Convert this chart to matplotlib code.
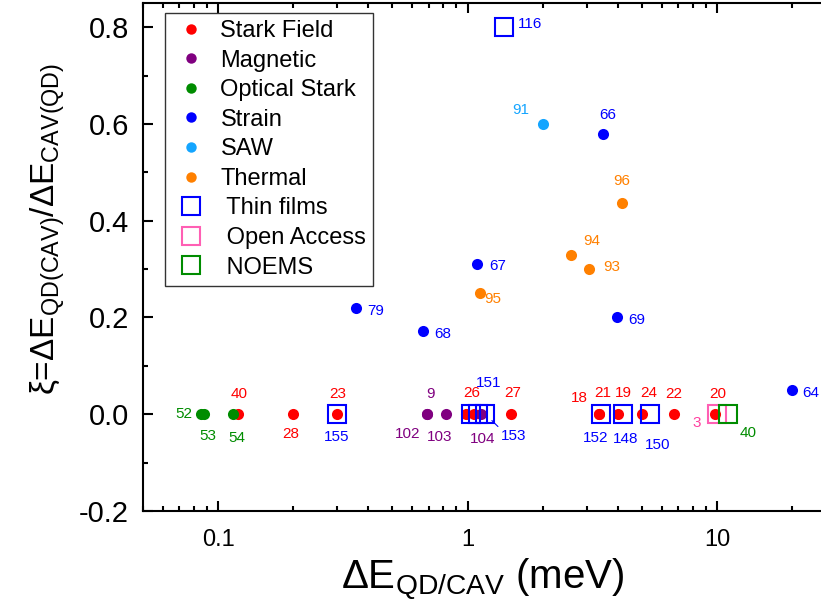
import matplotlib
matplotlib.use('Agg')
import matplotlib.pyplot as plt
from matplotlib.lines import Line2D
from matplotlib.ticker import FixedLocator, FixedFormatter, LogLocator, NullFormatter, MultipleLocator, FormatStrFormatter

plt.rcParams['font.family'] = ['Liberation Sans', 'DejaVu Sans']
plt.rcParams['mathtext.fontset'] = 'custom'
plt.rcParams['mathtext.rm'] = 'Liberation Sans'
plt.rcParams['mathtext.it'] = 'Liberation Sans:italic'
plt.rcParams['mathtext.bf'] = 'Liberation Sans:bold'
plt.rcParams['axes.unicode_minus'] = False

# Tuning mechanisms (filled dots), x = detuning in meV, y = xi
stark_x = [0.12, 0.2, 0.3, 0.99, 1.06, 1.5, 3.35, 3.35, 4.0, 5.0, 6.7, 9.85]
stark_y = [0, 0, 0, 0, 0, 0, 0, 0, 0, 0, 0, 0]
stark_refs = ['40', '28', '23', '', '26', '27', '18', '21', '19', '24', '22', '20']

magnetic_x = [0.69, 0.69, 0.82, 1.13]
magnetic_y = [0, 0, 0, 0]
magnetic_refs = ['9', '102', '103', '104']

optical_x = [0.0855, 0.088, 0.115]
optical_y = [0, 0, 0]
optical_refs = ['52', '53', '54']

strain_x = [0.357, 0.665, 1.094, 3.48, 3.98, 20.0]
strain_y = [0.22, 0.172, 0.31, 0.58, 0.20, 0.05]
strain_refs = ['79', '68', '67', '66', '69', '64']

saw_x = [2.0]
saw_y = [0.6]
saw_refs = ['91']

thermal_x = [4.16, 2.6, 3.07, 1.12]
thermal_y = [0.436, 0.33, 0.30, 0.25]
thermal_refs = ['96', '94', '93', '95']

# Platforms (open squares)
thin_x = [1.4, 0.3, 1.03, 1.1, 1.18, 3.44, 4.2, 5.37]
thin_y = [0.8, 0, 0, 0, 0, 0, 0, 0]
thin_refs = ['116', '155', '', '151', '153', '152', '148', '150']

open_x = [9.97]
open_y = [0]
open_refs = ['3']

noems_x = [11.1]
noems_y = [0]
noems_refs = ['40']

# label offsets in pixels (dx, dy), one per point
stark_off = [(1, 20), (-2, -20), (1, 20), (0, 0), (-2, 21), (1, 21), (-19, 16), (4, 21), (6, 21), (7, 21), (0, 20), (2, 20)]
magnetic_off = [(3, 20), (-20, -20), (-6, -23), (2, -25)]
optical_off = [(-17, 0), (4, -22), (4, -24)]
strain_off = [(20, -3), (19, -3), (20, -2), (5, 19), (20, -3), (19, -3)]
saw_off = [(-22, 14)]
thermal_off = [(0, 22), (21, 14), (23, 2), (13, -6)]
thin_off = [(26, 3), (0, -23), (0, 0), (11, 31), (28, -22), (-6, -24), (3, -25), (8, -31)]
open_off = [(-20, -9)]
noems_off = [(20, -19)]

dots = [
    ('Stark Field', '#ff0000', stark_x, stark_y, stark_refs, stark_off),
    ('Magnetic', '#800080', magnetic_x, magnetic_y, magnetic_refs, magnetic_off),
    ('Optical Stark', '#008c00', optical_x, optical_y, optical_refs, optical_off),
    ('Strain', '#0000ff', strain_x, strain_y, strain_refs, strain_off),
    ('SAW', '#14a5ff', saw_x, saw_y, saw_refs, saw_off),
    ('Thermal', '#ff8000', thermal_x, thermal_y, thermal_refs, thermal_off),
]
squares = [
    (' Thin films', '#0000ff', '#0000ff', thin_x, thin_y, thin_refs, thin_off),
    (' Open Access', '#ff5fb4', '#ff3fa0', open_x, open_y, open_refs, open_off),
    (' NOEMS', '#008c00', '#008c00', noems_x, noems_y, noems_refs, noems_off),
]

fig = plt.figure(figsize=(8.21, 6.14), dpi=100)
ax = fig.add_axes([143 / 821, 103 / 614, 693 / 821, 508 / 614])
ax.set_xscale('log')

handles = []
labels = []
for name, c, xs, ys, refs, offs in dots:
    ax.plot(xs, ys, 'o', ls='none', color=c, ms=8, mew=0, zorder=3)
    handles.append(Line2D([], [], marker='o', ls='none', color=c, ms=7.5, mew=0))
    labels.append(name)
    for x, y, r, (dx, dy) in zip(xs, ys, refs, offs):
        if r:
            ax.annotate(r, (x, y), xytext=(dx, dy), textcoords='offset pixels',
                        ha='center', va='center', fontsize=11, color=c)

for name, c, tc, xs, ys, refs, offs in squares:
    ax.plot(xs, ys, 's', ls='none', mfc='none', mec=c, mew=1.5, ms=13.5, zorder=4)
    handles.append(Line2D([], [], marker='s', ls='none', mfc='none', mec=c, mew=1.5, ms=13.5))
    labels.append(name)
    for x, y, r, (dx, dy) in zip(xs, ys, refs, offs):
        if not r:
            continue
        if r == '153':
            ax.annotate(r, (x, y), xytext=(dx, dy), textcoords='offset pixels',
                        ha='center', va='center', fontsize=11, color=tc,
                        arrowprops=dict(arrowstyle='-', color=tc, lw=0.8,
                                        shrinkA=0, shrinkB=6.5, relpos=(0, 1)))
        else:
            ax.annotate(r, (x, y), xytext=(dx, dy), textcoords='offset pixels',
                        ha='center', va='center', fontsize=11, color=tc)

ax.set_xlim(0.05, 30)
ax.set_ylim(-0.2, 0.85)

ax.xaxis.set_major_locator(FixedLocator([0.1, 1, 10]))
ax.xaxis.set_major_formatter(FixedFormatter(['0.1', '1', '10']))
ax.xaxis.set_minor_locator(LogLocator(base=10, subs=[2, 3, 4, 5, 6, 7, 8, 9]))
ax.xaxis.set_minor_formatter(NullFormatter())
ax.yaxis.set_major_locator(MultipleLocator(0.2))
ax.yaxis.set_minor_locator(MultipleLocator(0.1))
ax.yaxis.set_major_formatter(FormatStrFormatter('%.1f'))

ax.tick_params(which='both', direction='in', top=True, right=True, width=1.5, color='black')
ax.tick_params(which='major', length=7, pad=10)
ax.tick_params(which='minor', length=3.5)
ax.tick_params(axis='x', labelsize=17, pad=13)
ax.tick_params(axis='y', labelsize=21)
for s in ax.spines.values():
    s.set_linewidth(1.5)

ax.set_xlabel('ΔE$_{\\mathrm{QD/CAV}}$ (meV)', fontsize=29)
ax.set_ylabel('ξ=ΔE$_{\\mathrm{QD(CAV)}}$/ΔE$_{\\mathrm{CAV(QD)}}$', fontsize=24)
ax.xaxis.set_label_coords(0.49, -0.088)
ax.yaxis.set_label_coords(-0.11, 0.555)

leg = ax.legend(handles, labels, loc='upper left', bbox_to_anchor=(22 / 693, 1 - 10 / 508),
                borderaxespad=0, fontsize=17, frameon=True, fancybox=False,
                edgecolor='#333333', framealpha=1, borderpad=0.3, handlelength=1.6,
                handletextpad=0.45, labelspacing=0.32)
leg.get_frame().set_linewidth(1.0)

fig.savefig('out.png', dpi=100)
